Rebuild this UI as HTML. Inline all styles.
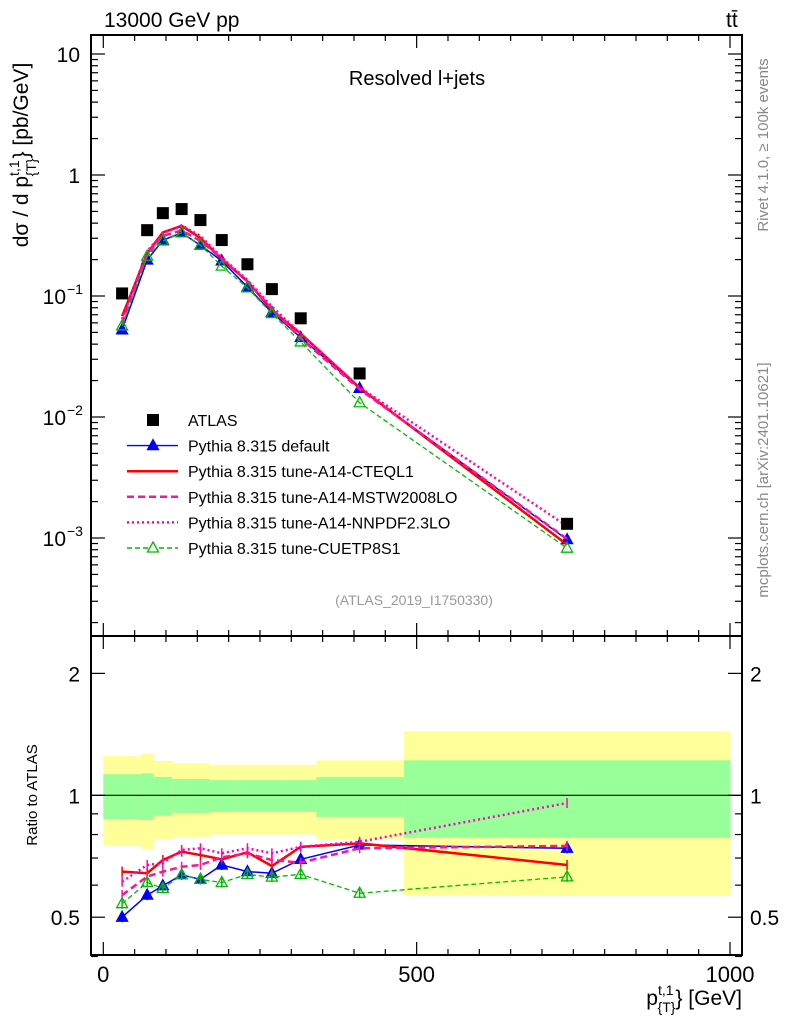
<!DOCTYPE html>
<html><head><meta charset="utf-8">
<style>
html,body{margin:0;padding:0;background:#fff;}
svg{display:block;font-family:"Liberation Sans",sans-serif;}
</style></head>
<body>
<svg id="chart" width="786" height="1024" viewBox="0 0 786 1024" xmlns="http://www.w3.org/2000/svg"></svg>
<script>
const xCenters = [30,70,95,125,155,189,230,269,315,409,740];
const binEdges = [0,60,80,110,140,170,210,250,290,340,480,1000];
const atlasValues = [0.105,0.35,0.484,0.523,0.424,0.29,0.183,0.114,0.0654,0.0229,0.00131];
const bandYellowHi = [1.25,1.265,1.216,1.2,1.2,1.19,1.19,1.19,1.19,1.22,1.44];
const bandGreenHi = [1.127,1.133,1.11,1.097,1.097,1.09,1.09,1.09,1.09,1.11,1.22];
const bandGreenLo = [0.874,0.869,0.89,0.905,0.905,0.91,0.91,0.91,0.91,0.885,0.785];
const bandYellowLo = [0.751,0.737,0.78,0.79,0.79,0.80,0.80,0.80,0.80,0.78,0.565];
const ratioDefault = [0.50,0.567,0.598,0.636,0.62,0.673,0.648,0.642,0.695,0.754,0.74];
const ratioCTEQ = [0.648,0.642,0.692,0.726,0.712,0.695,0.723,0.669,0.746,0.761,0.673];
const ratioMSTW = [0.567,0.63,0.648,0.666,0.673,0.703,0.719,0.692,0.682,0.74,0.75];
const ratioNNPDF = [0.612,0.673,0.68,0.733,0.74,0.719,0.74,0.719,0.746,0.768,0.957];
const ratioCUETP = [0.54,0.609,0.589,0.636,0.62,0.609,0.638,0.628,0.638,0.573,0.629];
const mainTickLabels = ["10","1","10","10","10"];
const ratioTickValues = [0.5,1,2];
const xTickValues = [0,500,1000];

const NS="http://www.w3.org/2000/svg";
const svg=document.getElementById('chart');
const L=91,R=742,T=35,MB=636,RB=955;
function X(v){return 103.3+v*0.6267;}
function Ym(v){return 175-Math.log10(v)*121;}
function Yr(v){return 795.3-Math.log10(v)*405;}
function el(tag,attrs,parent){const e=document.createElementNS(NS,tag);for(const k in attrs)e.setAttribute(k,attrs[k]);(parent||svg).appendChild(e);return e;}
function txt(s,x,y,attrs,parent){const t=el('text',Object.assign({x:x,y:y},attrs),parent);t.textContent=s;return t;}

const defs=el('defs',{});
const cm=el('clipPath',{id:'cm'},defs);el('rect',{x:L,y:T,width:R-L,height:MB-T},cm);
const cr=el('clipPath',{id:'cr'},defs);el('rect',{x:L,y:MB,width:R-L,height:RB-MB},cr);

const bands=el('g',{'clip-path':'url(#cr)'});


for(let i=0;i<xCenters.length;i++){
  const x0=X(binEdges[i]),x1=X(binEdges[i+1]);
  const y=el('rect',{x:x0,y:Yr(bandYellowHi[i]),width:x1-x0+0.5,height:Yr(bandYellowLo[i])-Yr(bandYellowHi[i]),fill:'#ffff99'},bands);
  
  
  const g=el('rect',{x:x0,y:Yr(bandGreenHi[i]),width:x1-x0+0.5,height:Yr(bandGreenLo[i])-Yr(bandGreenHi[i]),fill:'#99ff99'},bands);
  
  
}
el('line',{x1:L,x2:R,y1:Yr(1),y2:Yr(1),stroke:'#000','stroke-width':1.2});

const series=[
 {name:'series-pythia-default',r:ratioDefault,color:'#0000ff',w:1.5,dash:'',marker:'triFill'},
 {name:'series-tune-a14-cteql1',r:ratioCTEQ,color:'#ff0000',w:2.5,dash:'',marker:'none'},
 {name:'series-tune-a14-mstw2008lo',r:ratioMSTW,color:'#ff1493',w:2.5,dash:'7,4',marker:'none'},
 {name:'series-tune-a14-nnpdf23lo',r:ratioNNPDF,color:'#ff00cc',w:2.5,dash:'2,3',marker:'none'},
 {name:'series-tune-cuetp8s1',r:ratioCUETP,color:'#00bb00',w:1.3,dash:'5,3',marker:'triOpen'}
];
function tri(x,y,color,filled,parent,nm){
  const p=el('polygon',{points:`${x},${y-6} ${x-5.5},${y+4} ${x+5.5},${y+4}`,fill:filled?color:'none',stroke:color,'stroke-width':1.3},parent);
  
  
}
const gm=el('g',{'clip-path':'url(#cm)'});
const gr=el('g',{'clip-path':'url(#cr)'});
series.forEach(s=>{
  const mainPts=xCenters.map((x,i)=>X(x)+','+Ym(atlasValues[i]*s.r[i])).join(' ');
  const ratPts=xCenters.map((x,i)=>X(x)+','+Yr(s.r[i])).join(' ');
  const pm=el('polyline',{points:mainPts,fill:'none',stroke:s.color,'stroke-width':s.w,'stroke-dasharray':s.dash},gm);
  
  
  const pr=el('polyline',{points:ratPts,fill:'none',stroke:s.color,'stroke-width':s.w,'stroke-dasharray':s.dash},gr);
  
  
  xCenters.forEach((x,i)=>{
    const yr=Yr(s.r[i]);
    const eb=el('line',{x1:X(x),x2:X(x),y1:yr-5,y2:yr+5,stroke:s.color,'stroke-width':1.5},gr);
    
    
    if(s.marker!=='none'){
      tri(X(x),Ym(atlasValues[i]*s.r[i]),s.color,s.marker==='triFill',gm,s.name+'-main-marker');
      tri(X(x),yr,s.color,s.marker==='triFill',gr,s.name+'-ratio-marker');
    }
  });
});
xCenters.forEach((x,i)=>{
  const r=el('rect',{x:X(x)-6,y:Ym(atlasValues[i])-6,width:12,height:12,fill:'#000'},gm);
  
  
});

[[T,MB],[MB,RB]].forEach(([t,b],k)=>{
  const f=el('rect',{x:L,y:t,width:R-L,height:b-t,fill:'none',stroke:'#000','stroke-width':2});
  
  
});
for(let v=0;v<=1000;v+=50){
  const major=v%500===0, len=major?13:6, x=X(v);
  [T,MB].forEach(y=>el('line',{x1:x,x2:x,y1:y,y2:y+len,stroke:'#000','stroke-width':1.2}));
  [MB,RB].forEach(y=>el('line',{x1:x,x2:x,y1:y,y2:y-len,stroke:'#000','stroke-width':1.2}));
}
xTickValues.forEach(v=>{
  const t=txt(String(v),X(v),982,{'font-size':22,'text-anchor':'middle'});
  
  
});
for(let d=-4;d<=1;d++){
  for(let m=1;m<10;m++){
    const v=m*Math.pow(10,d);const y=Ym(v);
    if(y<T||y>MB)continue;
    const len=m===1?14:7;
    el('line',{x1:L,x2:L+len,y1:y,y2:y,stroke:'#000','stroke-width':1.2});
    el('line',{x1:R,x2:R-len,y1:y,y2:y,stroke:'#000','stroke-width':1.2});
  }
}
const mainExp=[1,0,-1,-2,-3];
mainExp.forEach((e,i)=>{
  const y=Ym(Math.pow(10,e))+8;
  const t=txt(mainTickLabels[i],e<0?66:80,y,{'font-size':21,'text-anchor':'end'});
  
  
  if(e<0){const s=txt('\u2212'+Math.abs(e),67,y-10,{'font-size':14});
    
    }
});
[0.4,0.5,0.6,0.7,0.8,0.9,1,2].forEach(v=>{
  const y=Yr(v);const len=(v===0.5||v===1||v===2)?14:7;
  el('line',{x1:L,x2:L+len,y1:y,y2:y,stroke:'#000','stroke-width':1.2});
  el('line',{x1:R,x2:R-len,y1:y,y2:y,stroke:'#000','stroke-width':1.2});
});
ratioTickValues.forEach(v=>{
  const y=Yr(v)+8, s=v===0.5?'0.5':String(v);
  const a=txt(s,80,y,{'font-size':21,'text-anchor':'end'});
  
  
  const b=txt(s,750,y,{'font-size':21});
  
  
});

// legend
const legend=el('g',{});


const entries=[['ATLAS','sq','#000',''],['Pythia 8.315 default','triF','#0000ff',''],['Pythia 8.315 tune-A14-CTEQL1','l','#ff0000',''],['Pythia 8.315 tune-A14-MSTW2008LO','l','#ff1493','7,4'],['Pythia 8.315 tune-A14-NNPDF2.3LO','l','#ff00cc','2,3'],['Pythia 8.315 tune-CUETP8S1','triO','#00bb00','5,3']];
entries.forEach((e,i)=>{
  const y=420+i*25.6;
  const g=el('g',{},legend);
  
  
  if(e[1]==='sq'){el('rect',{x:147,y:y-6,width:12,height:12,fill:'#000'},g);}
  else{
    el('line',{x1:127,x2:178,y1:y,y2:y,stroke:e[2],'stroke-width':(e[1]==='l')?2.5:1.4,'stroke-dasharray':e[3]},g);
    if(e[1]!=='l')el('polygon',{points:`153,${y-6} 147.5,${y+4} 158.5,${y+4}`,fill:e[1]==='triF'?e[2]:'#fff',stroke:e[2],'stroke-width':1.3},g);
  }
  const t=el('text',{x:188,y:y+6,'font-size':16},g);t.textContent=e[0];
});

svg.insertAdjacentHTML('beforeend',`
<text x="104" y="27" font-size="21">13000 GeV pp</text>
<text x="726" y="27" font-size="21">tt̄</text>
<text x="417" y="85" font-size="20" text-anchor="middle">Resolved l+jets</text>
<text x="414" y="605" font-size="14" fill="#999" text-anchor="middle">(ATLAS_2019_I1750330)</text>
<text transform="translate(768,145) rotate(-90)" font-size="15" fill="#888" text-anchor="middle">Rivet 4.1.0, ≥ 100k events</text>
<text transform="translate(768,480) rotate(-90)" font-size="15" fill="#888" text-anchor="middle">mcplots.cern.ch [arXiv:2401.10621]</text>
<text transform="translate(28,155) rotate(-90)" font-size="21" text-anchor="middle">dσ / d p<tspan font-size="14" dy="-9">t,1</tspan><tspan font-size="14" dx="-16" dy="17">{T}</tspan><tspan dy="-8">} [pb/GeV]</tspan></text>
<text transform="translate(37,795) rotate(-90)" font-size="15" text-anchor="middle">Ratio to ATLAS</text>
<text x="742" y="1005" font-size="21" text-anchor="end">p<tspan font-size="14" dy="-10">t,1</tspan><tspan font-size="14" dx="-16" dy="17">{T}</tspan><tspan dy="-7">} [GeV]</tspan></text>
`);
</script>
</body></html>
